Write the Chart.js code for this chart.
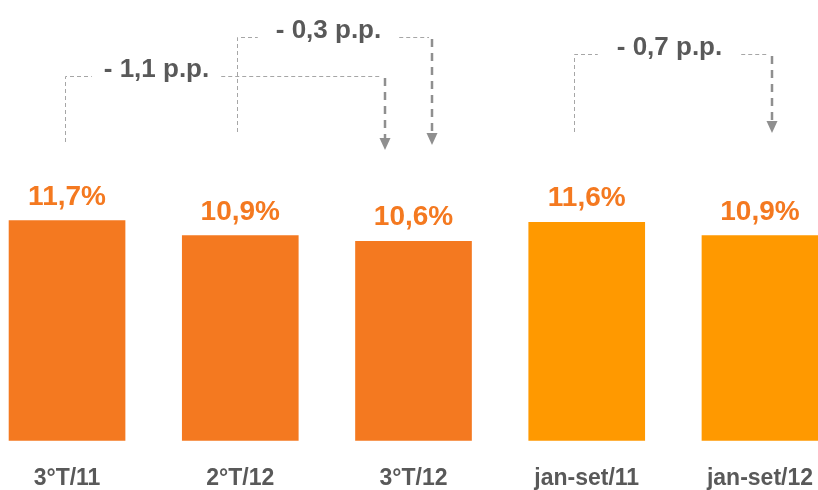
<!DOCTYPE html>
<html>
<head>
<meta charset="utf-8">
<script src="https://cdn.jsdelivr.net/npm/chart.js@4/dist/chart.umd.min.js"></script>
<style>
html,body{margin:0;padding:0;background:#fff;overflow:hidden}
#wrap{position:relative;width:818px;height:490px}
canvas{display:block}
</style>
</head>
<body>
<div id="wrap"><canvas id="c" width="818" height="490"></canvas></div>
<script>
// ---- data ----
const categories = ['3°T/11', '2°T/12', '3°T/12', 'jan-set/11', 'jan-set/12'];
const rates = [11.7, 10.9, 10.6, 11.6, 10.9];
const changeLabels = ['- 1,1 p.p.', '- 0,3 p.p.', '- 0,7 p.p.'];
const changeFrom = [0, 1, 3];
const changeTo = [2, 2, 4];

// ---- styles / layout ----
const FONT = "'Liberation Sans', Arial, sans-serif";
const barColors = ['#F47920', '#F47920', '#F47920', '#FF9900', '#FF9900'];
const labelColor = '#F47920';
const textGray = '#595959';

// per-annotation drawing geometry (pixels)
const annotGeom = [
  { leftDx: -2,  rightDx: -28.5, lineY: 76, leftBottom: 142, tipY: 150, textX: 156.5, pad: 12 },
  { leftDx: -3,  rightDx: 18.5,  lineY: 37, leftBottom: 132, tipY: 145, textX: 328.5, pad: 18 },
  { leftDx: -13, rightDx: 12,    lineY: 54, leftBottom: 132, tipY: 133, textX: 669.5, pad: 19 }
];

function fmtPct(v) { return v.toFixed(1).replace('.', ',') + '%'; }

const valueLabelPlugin = {
  id: 'valueLabels',
  afterDatasetsDraw(chart) {
    const ctx = chart.ctx;
    const meta = chart.getDatasetMeta(0);
    ctx.save();
    ctx.font = 'bold 28px ' + FONT;
    ctx.fillStyle = labelColor;
    ctx.textAlign = 'center';
    ctx.textBaseline = 'alphabetic';
    meta.data.forEach((bar, i) => {
      ctx.fillText(fmtPct(rates[i]), bar.x, bar.y - 16);
    });
    ctx.restore();
  }
};

const changePlugin = {
  id: 'changes',
  afterDraw(chart) {
    const ctx = chart.ctx;
    const xs = chart.scales.x;
    ctx.save();
    ctx.font = 'bold 26px ' + FONT;
    changeLabels.forEach((txt, k) => {
      const g = annotGeom[k];
      const lx = Math.round(xs.getPixelForValue(changeFrom[k]) + g.leftDx) + 0.5;
      const rx = Math.round(xs.getPixelForValue(changeTo[k]) + g.rightDx);
      const w = ctx.measureText(txt).width;
      const y = g.lineY + 0.5;
      // thin dashed bracket
      ctx.strokeStyle = '#A6A6A6';
      ctx.lineWidth = 1;
      ctx.setLineDash([4, 3]);
      ctx.beginPath();
      ctx.moveTo(lx, g.leftBottom);
      ctx.lineTo(lx, y);
      ctx.lineTo(g.textX - w / 2 - g.pad, y);
      ctx.moveTo(g.textX + w / 2 + g.pad, y);
      ctx.lineTo(rx - 3, y);
      ctx.stroke();
      // thick dashed arrow shaft
      ctx.strokeStyle = '#8F8F8F';
      ctx.lineWidth = 2.5;
      ctx.setLineDash([8, 6]);
      ctx.beginPath();
      ctx.moveTo(rx, g.lineY + 2);
      ctx.lineTo(rx, g.tipY - 12);
      ctx.stroke();
      ctx.setLineDash([]);
      ctx.fillStyle = '#8F8F8F';
      ctx.beginPath();
      ctx.moveTo(rx - 5.5, g.tipY - 12);
      ctx.lineTo(rx + 5.5, g.tipY - 12);
      ctx.lineTo(rx, g.tipY);
      ctx.closePath();
      ctx.fill();
      // label
      ctx.fillStyle = textGray;
      ctx.textAlign = 'center';
      ctx.textBaseline = 'alphabetic';
      ctx.fillText(txt, g.textX, g.lineY + 1);
    });
    ctx.restore();
  }
};

new Chart(document.getElementById('c'), {
  type: 'bar',
  data: {
    datasets: [{
      data: rates.map((v, i) => ({ x: i, y: v })),
      backgroundColor: barColors,
      borderWidth: 0,
      barThickness: 116
    }]
  },
  options: {
    responsive: false,
    animation: false,
    devicePixelRatio: 1,
    layout: { padding: 0 },
    plugins: { legend: { display: false }, tooltip: { enabled: false } },
    scales: {
      x: {
        type: 'linear',
        offset: false,
        bounds: 'data',
        min: -0.387,
        max: 4.335,
        grid: { display: false, drawTicks: false, offset: false },
        border: { display: false },
        afterBuildTicks(scale) { scale.ticks = categories.map((_, i) => ({ value: i })); },
        afterFit(scale) {
          scale.height = 49.3;
          scale.paddingLeft = 0;
          scale.paddingRight = 0;
        },
        ticks: {
          autoSkip: false,
          maxRotation: 0,
          padding: 24,
          color: textGray,
          font: { family: FONT, weight: 'bold', size: 23 },
          callback: (v) => categories[v]
        }
      },
      y: { display: false, min: 0, max: 23.42 }
    }
  },
  plugins: [valueLabelPlugin, changePlugin]
});
</script>
</body>
</html>
